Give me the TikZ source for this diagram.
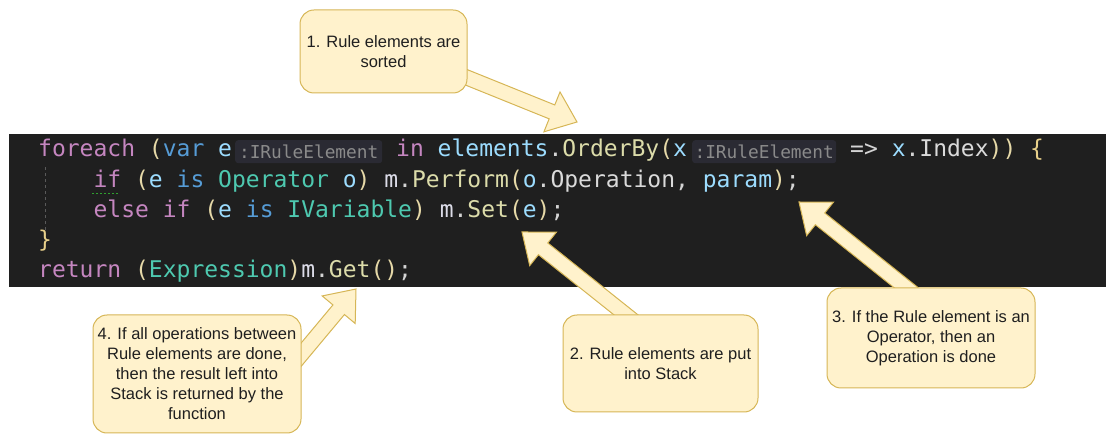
\documentclass[tikz,border=0pt]{standalone}
\usepackage{fontspec}
\usetikzlibrary{calc}
\newfontfamily\codefont{DejaVu Sans Mono}
\newfontfamily\calloutfont{Liberation Sans}
\definecolor{codebg}{HTML}{1F1F1F}
\definecolor{hintbg}{HTML}{2A2A33}
\definecolor{hintgray}{HTML}{8A8A8A}
\definecolor{calloutfill}{HTML}{FFF2CC}
\definecolor{calloutline}{HTML}{D6B656}
\definecolor{ckw}{HTML}{C586C0}
\definecolor{cbl}{HTML}{569CD6}
\definecolor{cid}{HTML}{9CDCFE}
\definecolor{cty}{HTML}{4EC9B0}
\definecolor{cfn}{HTML}{DCDCAA}
\definecolor{cpr}{HTML}{DADADA}
\definecolor{cpn}{HTML}{D4D4D4}
\definecolor{cbr}{HTML}{E6D9A8}
\definecolor{cbrace}{HTML}{E8D08A}
\definecolor{cm}{HTML}{DCDCE8}
\definecolor{guide}{HTML}{5A5A5A}
\definecolor{squig}{HTML}{2FA02F}
\newcommand{\tkw}[1]{\textcolor{ckw}{#1}}
\newcommand{\tbl}[1]{\textcolor{cbl}{#1}}
\newcommand{\tid}[1]{\textcolor{cid}{#1}}
\newcommand{\tty}[1]{\textcolor{cty}{#1}}
\newcommand{\tfn}[1]{\textcolor{cfn}{#1}}
\newcommand{\tpr}[1]{\textcolor{cpr}{#1}}
\newcommand{\tpn}[1]{\textcolor{cpn}{#1}}
\newcommand{\tbr}[1]{\textcolor{cbr}{#1}}
\newcommand{\tbc}[1]{\textcolor{cbrace}{#1}}
\newcommand{\tmm}[1]{\textcolor{cm}{#1}}
\pgfdeclarelayer{codelayer}
\pgfdeclarelayer{arrowlayer}
\pgfsetlayers{codelayer,arrowlayer,main}
\newcommand{\flexarrow}[2]{%
  \coordinate (#2-base) at ($(#2)!27pt!(#1)$);
  \filldraw[flexarrowsty] ($(#1)!7.5pt!90:(#2)$) -- ($(#2-base)!7.5pt!90:(#2)$)
    -- ($(#2-base)!21.5pt!90:(#2)$) -- (#2) -- ($(#2-base)!21.5pt!-90:(#2)$)
    -- ($(#2-base)!7.5pt!-90:(#2)$) -- ($(#1)!7.5pt!-90:(#2)$) -- cycle;}
\begin{document}
\begin{tikzpicture}[x=1pt,y=-1pt,
  callout/.style={draw=calloutline, fill=calloutfill, line width=1pt, rounded corners=14pt,
    align=center, font=\calloutfont\fontsize{16.5}{20}\selectfont, text=black!88, inner sep=2pt},
  codeline/.style={anchor=base west, inner sep=0pt, font=\codefont\fontsize{23}{28}\selectfont},
  hint/.style={fill=hintbg, rounded corners=3pt, inner sep=0pt, minimum height=23pt,
    font=\codefont\fontsize{17.8}{20}\selectfont, text=hintgray},
  flexarrowsty/.style={fill=calloutfill, draw=calloutline, line width=1pt, line join=miter}]
\useasboundingbox (0,0) rectangle (1106,435);

\begin{pgfonlayer}{codelayer}
  \fill[codebg] (9,134) rectangle (1106,287);
  \draw[guide, line width=1pt, dash pattern=on 3pt off 3pt] (45,167) -- (45,237);
  \node[codeline] (l1a) at (38,157) {\tkw{foreach} \tbr{(}\tbl{var} \tid{e}};
  \node[hint, anchor=north west, minimum width=147pt] (h1) at (235,140) {:IRuleElement};
  \node[codeline] (l1b) at (396,157) {\tkw{in} \tid{elements}\tpn{.}\tfn{OrderBy}\tbr{(}\tid{x}};
  \node[hint, anchor=north west, minimum width=144pt] (h2) at (692,140) {:IRuleElement};
  \node[codeline] (l1c) at (850,157) {\tpn{=>} \tid{x}\tpn{.}\tpr{Index}\tbr{))} \tbc{\{}};
  \node[codeline] (l2) at (93.4,187.1) {\tkw{if} \tbr{(}\tid{e} \tbl{is} \tty{Operator} \tid{o}\tbr{)} \tmm{m}\tpn{.}\tfn{Perform}\tbr{(}\tid{o}\tpn{.}\tpr{Operation}\tpn{,} \tid{param}\tbr{)}\tpn{;}};
  \node[codeline] (l3) at (93.4,217.2) {\tkw{else} \tkw{if} \tbr{(}\tid{e} \tbl{is} \tty{IVariable}\tbr{)} \tmm{m}\tpn{.}\tfn{Set}\tbr{(}\tid{e}\tbr{)}\tpn{;}};
  \node[codeline] (l4) at (38,247.3) {\tbc{\}}};
  \node[codeline] (l5) at (38,277.4) {\tkw{return} \tbr{(}\tty{Expression}\tbr{)}\tmm{m}\tpn{.}\tfn{Get}\tbr{()}\tpn{;}};
  \draw[squig, line width=1.5pt, dash pattern=on 2pt off 2pt] (l2.base west) ++(-1,6.5) -- ++(26,0);
\end{pgfonlayer}

\node[callout, minimum width=167pt, minimum height=83pt] (b1) at (383.5,51.5) {1. Rule elements are\\sorted};
\node[callout, minimum width=195pt, minimum height=97pt] (b2) at (660.5,363.5) {2. Rule elements are put\\into Stack};
\node[callout, minimum width=208pt, minimum height=100pt] (b3) at (931,338) {3. If the Rule element is an\\Operator, then an\\Operation is done};
\node[callout, minimum width=208pt, minimum height=118pt] (b4) at (197,374) {4. If all operations between\\Rule elements are done,\\then the result left into\\Stack is returned by the\\function};

\coordinate (s1) at ([yshift=7.6pt]b1.center);
\coordinate (s2) at ([xshift=26.5pt]b2.center);
\coordinate (s3) at ([xshift=38pt]b3.center);
\coordinate (s4) at ([xshift=88pt]b4.center);
\coordinate (t1) at (577,122);
\coordinate (t2) at (522,232);
\coordinate (t3) at (799,202);
\coordinate (t4) at (356,289);

\begin{pgfonlayer}{arrowlayer}
  \flexarrow{s1}{t1}
  \flexarrow{s2}{t2}
  \flexarrow{s3}{t3}
  \flexarrow{s4}{t4}
\end{pgfonlayer}
\end{tikzpicture}
\end{document}
